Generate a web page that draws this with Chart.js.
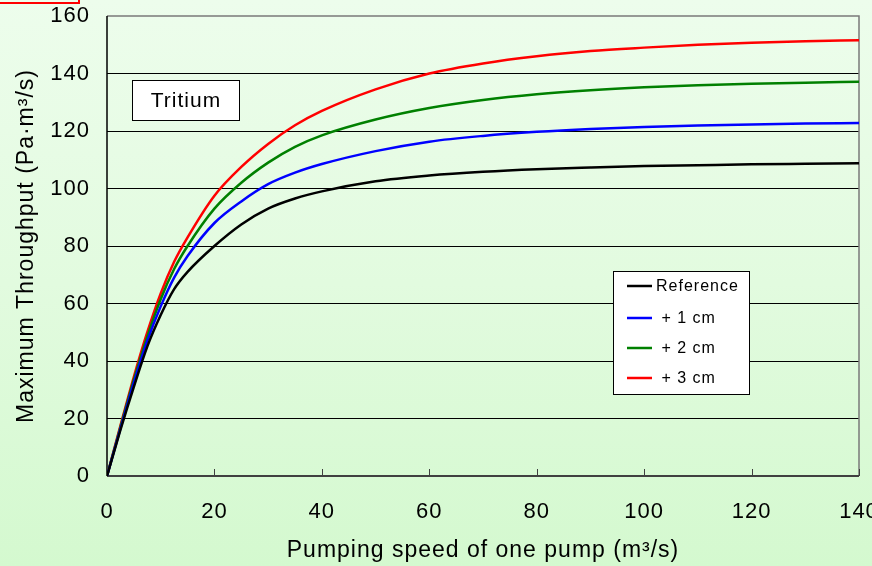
<!DOCTYPE html>
<html>
<head>
<meta charset="utf-8">
<script src="https://cdn.jsdelivr.net/npm/chart.js@4/dist/chart.umd.min.js"></script>
<style>
  html, body { margin: 0; padding: 0; }
  body {
    width: 872px; height: 566px; overflow: hidden; position: relative;
    background: linear-gradient(to bottom, #edfdec 0%, #e2fbdf 50%, #d4f9cf 100%);
  }
  #wrap { position: absolute; left: 0; top: 0; width: 872px; height: 566px; }
  #redbox {
    position: absolute; left: -2px; top: -40px; width: 78px; height: 40px;
    border: 2px solid #ff0000;
  }
</style>
</head>
<body>
<div id="redbox"></div>
<div id="wrap"><canvas id="chart" width="872" height="566"></canvas></div>
<script>
// Pumping speed of one pump (m³/s)
const speed = [0, 2.5, 5, 7.5, 10, 12.5, 15, 20, 25, 30, 35, 40, 50, 60, 70, 80, 90, 100, 110, 120, 130, 140];

// Maximum throughput (Pa·m³/s) for each case
const reference = [0, 16, 31, 45, 56, 65, 71, 80, 87.5, 93, 96.5, 99, 102.5, 104.5, 105.8, 106.7, 107.3, 107.8, 108.1, 108.4, 108.6, 108.8];
const plus1cm   = [0, 16.5, 32.5, 47, 59, 69, 76.5, 88, 95.5, 101.5, 105.5, 108.5, 113, 116.3, 118.3, 119.7, 120.7, 121.4, 121.9, 122.3, 122.6, 122.8];
const plus2cm   = [0, 17, 33.5, 48.5, 61.5, 72, 80, 93, 102, 109, 114.5, 118.5, 124, 128, 130.8, 132.8, 134.2, 135.2, 135.9, 136.4, 136.8, 137.1];
const plus3cm   = [0, 17.5, 34.5, 50, 63.5, 74.5, 83, 97.5, 107.5, 115.5, 122, 127, 134.5, 140, 143.5, 146, 147.8, 149, 150, 150.7, 151.2, 151.6];

const seriesNames = ['Reference', ' + 1 cm', ' + 2 cm', ' + 3 cm'];
const seriesColors = ['#000000', '#0000ff', '#008000', '#ff0000'];
const xTicks = [0, 20, 40, 60, 80, 100, 120, 140];
const yTicks = [0, 20, 40, 60, 80, 100, 120, 140, 160];

const FONT = 'Liberation Sans, Arial, sans-serif';

function toPoints(ys) {
    return speed.map((x, i) => ({ x: x, y: ys[i] }));
}

const allSeries = [reference, plus1cm, plus2cm, plus3cm];
const datasets = allSeries.map((ys, i) => ({
    label: seriesNames[i],
    data: toPoints(ys),
    borderColor: seriesColors[i],
    borderWidth: 2.5,
    pointRadius: 0,
    fill: false,
    cubicInterpolationMode: 'monotone'
}));

// the original text is a bit wider than plain Arial
const spacing = {
    id: 'spacing',
    beforeLayout(chart) { chart.ctx.letterSpacing = '1px'; },
    beforeDraw(chart) { chart.ctx.letterSpacing = '1px'; }
};

// frame, inner x ticks, text box and legend box
const decorations = {
    id: 'decorations',
    beforeDatasetsDraw(chart) {
        const ctx = chart.ctx;
        const a = chart.chartArea;
        const xs = chart.scales.x;
        ctx.save();
        // right and top frame
        ctx.strokeStyle = '#7a7a7a';
        ctx.lineWidth = 1.5;
        ctx.beginPath();
        ctx.moveTo(a.left, a.top);
        ctx.lineTo(a.right, a.top);
        ctx.lineTo(a.right, a.bottom);
        ctx.stroke();
        // left axis
        ctx.strokeStyle = '#000';
        ctx.lineWidth = 1.5;
        ctx.beginPath();
        ctx.moveTo(a.left, a.top);
        ctx.lineTo(a.left, a.bottom);
        ctx.stroke();
        // bottom axis
        ctx.strokeStyle = '#404040';
        ctx.lineWidth = 2;
        ctx.beginPath();
        ctx.moveTo(a.left, a.bottom);
        ctx.lineTo(a.right, a.bottom);
        ctx.stroke();
        // inner tick marks
        ctx.lineWidth = 1;
        xTicks.forEach(v => {
            const px = Math.round(xs.getPixelForValue(v)) + 0.5;
            ctx.beginPath();
            ctx.moveTo(px, a.bottom);
            ctx.lineTo(px, a.bottom - 7);
            ctx.stroke();
        });
        ctx.restore();
    },
    afterDraw(chart) {
        const ctx = chart.ctx;
        ctx.save();
        // "Tritium" box
        ctx.fillStyle = '#fff';
        ctx.fillRect(132.5, 80.5, 107, 40);
        ctx.strokeStyle = '#000';
        ctx.lineWidth = 1;
        ctx.strokeRect(132.5, 80.5, 107, 40);
        ctx.fillStyle = '#000';
        ctx.font = '21px ' + FONT;
        ctx.textAlign = 'center';
        ctx.textBaseline = 'middle';
        ctx.fillText('Tritium', 186, 101);

        // legend
        ctx.fillStyle = '#fff';
        ctx.fillRect(613.5, 271.5, 136, 123);
        ctx.strokeStyle = '#000';
        ctx.strokeRect(613.5, 271.5, 136, 123);
        const rows = [286, 318, 348, 378];
        ctx.font = '16px ' + FONT;
        ctx.textAlign = 'left';
        chart.data.datasets.forEach((ds, i) => {
            ctx.strokeStyle = ds.borderColor;
            ctx.lineWidth = 2.5;
            ctx.beginPath();
            ctx.moveTo(627, rows[i]);
            ctx.lineTo(652, rows[i]);
            ctx.stroke();
            ctx.fillStyle = '#000';
            ctx.fillText(ds.label, 656, rows[i] + 1);
        });
        ctx.restore();
    }
};

const ctx = document.getElementById('chart').getContext('2d');
const myChart = new Chart(ctx, {
    type: 'line',
    data: { datasets: datasets },
    options: {
        responsive: false,
        animation: false,
        layout: { padding: { top: 16, right: 13, left: 0, bottom: 0 } },
        plugins: {
            legend: { display: false },
            tooltip: { enabled: false }
        },
        scales: {
            x: {
                type: 'linear',
                min: 0,
                max: 140,
                afterBuildTicks: s => { s.ticks = xTicks.map(v => ({ value: v })); },
                afterFit: s => { s.height = 90; s.paddingLeft = 0; s.paddingRight = 0; },
                grid: { display: false },
                border: { display: false },
                ticks: {
                    color: '#000',
                    font: { family: FONT, size: 22 },
                    padding: 15,
                    maxRotation: 0
                },
                title: {
                    display: true,
                    text: 'Pumping speed of one pump (m³/s)',
                    color: '#000',
                    font: { family: FONT, size: 23 },
                    padding: { top: 4, bottom: 2 }
                }
            },
            y: {
                min: 0,
                max: 160,
                afterBuildTicks: s => { s.ticks = yTicks.map(v => ({ value: v })); },
                afterFit: s => { s.width = 107; s.paddingTop = 0; s.paddingBottom = 0; },
                grid: {
                    color: ctx => ctx.tick && ctx.tick.value === 160 ? 'rgba(0,0,0,0)' : '#000',
                    lineWidth: 1,
                    drawTicks: false
                },
                border: { display: false },
                ticks: {
                    color: '#000',
                    font: { family: FONT, size: 22 },
                    padding: 17
                },
                title: {
                    display: true,
                    text: 'Maximum Throughput (Pa·m³/s)',
                    color: '#000',
                    font: { family: FONT, size: 23 },
                    padding: { top: 13, bottom: 4 }
                }
            }
        }
    },
    plugins: [spacing, decorations]
});
</script>
</body>
</html>
